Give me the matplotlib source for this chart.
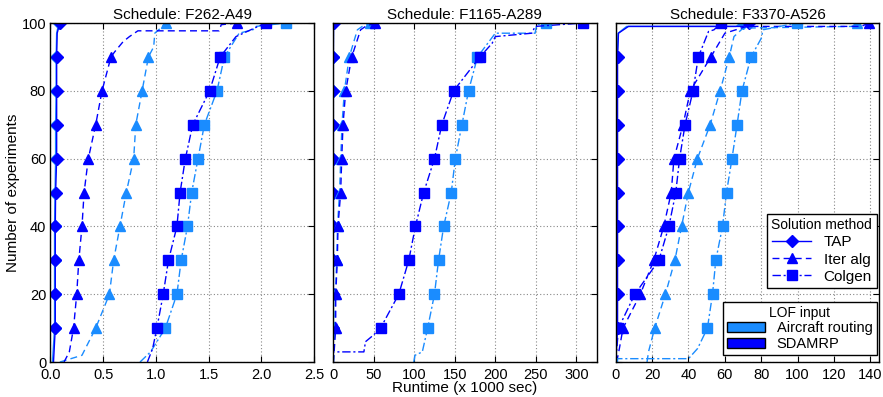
import matplotlib
matplotlib.use("Agg")
import matplotlib.pyplot as plt
from matplotlib.lines import Line2D
from matplotlib.patches import Patch

plt.rcParams["font.family"] = ["Liberation Sans", "DejaVu Sans"]

LIGHT = "#1a8cff"
DARK = "#0000ff"

# percentage of experiments at which markers are drawn
levels = [10, 20, 30, 40, 50, 60, 70, 80, 90, 100]

titles = ["Schedule: F262-A49", "Schedule: F1165-A289", "Schedule: F3370-A526"]
xlims = [(0, 2.5), (0, 325), (0, 145)]
xticks = [[0.0, 0.5, 1.0, 1.5, 2.0, 2.5],
          [0, 50, 100, 150, 200, 250, 300],
          [0, 20, 40, 60, 80, 100, 120, 140]]
xticklabels = [["0.0", "0.5", "1.0", "1.5", "2.0", "2.5"],
               ["0", "50", "100", "150", "200", "250", "300"],
               ["0", "20", "40", "60", "80", "100", "120", "140"]]

# ---- F262-A49 (runtime x1000 s at 10..100 %) ----
f262_tap_ac = [0.04, 0.04, 0.04, 0.04, 0.045, 0.05, 0.05, 0.055, 0.055, 0.08]
f262_tap_sd = [0.047, 0.047, 0.047, 0.047, 0.05, 0.06, 0.06, 0.06, 0.06, 0.09]
f262_iter_ac = [0.43, 0.56, 0.60, 0.66, 0.72, 0.79, 0.81, 0.87, 0.93, 1.10]
f262_iter_sd = [0.22, 0.25, 0.27, 0.30, 0.32, 0.36, 0.43, 0.49, 0.575, 1.77]
f262_col_ac = [1.09, 1.20, 1.24, 1.30, 1.34, 1.40, 1.46, 1.58, 1.65, 2.23]
f262_col_sd = [1.01, 1.07, 1.12, 1.20, 1.23, 1.28, 1.35, 1.51, 1.61, 2.04]
# extra points of the step curves: start (below 10 %) and tail (90..100 %)
f262_tap_ac_head = [(0.02, 0)]
f262_tap_ac_tail = [(0.06, 97)]
f262_tap_sd_head = [(0.03, 0)]
f262_tap_sd_tail = [(0.065, 97)]
f262_iter_ac_head = [(0.09, 0), (0.30, 2)]
f262_iter_ac_tail = [(0.98, 93), (0.99, 97)]
f262_iter_sd_head = [(0.13, 0), (0.18, 3)]
f262_iter_sd_tail = [(0.61, 91.5), (0.69, 94.5), (0.75, 96), (0.83, 97.7), (1.60, 97.7), (1.62, 99.5)]
f262_col_ac_head = [(0.85, 0), (0.95, 3)]
f262_col_ac_tail = [(1.79, 97), (1.92, 98), (1.95, 99)]
f262_col_sd_head = [(0.92, 0), (0.97, 4)]
f262_col_sd_tail = [(1.76, 96), (1.90, 98)]

# ---- F1165-A289 ----
f1165_tap_ac = [0.3, 0.3, 0.3, 0.3, 0.3, 0.3, 0.3, 0.3, 0.3, 0.5]
f1165_tap_sd = [0.4, 0.4, 0.4, 0.4, 0.4, 0.4, 0.4, 0.4, 0.4, 0.6]
f1165_iter_ac = [2.0, 3.0, 4.5, 5.5, 8.0, 9.5, 11.0, 14.0, 20.0, 45.0]
f1165_iter_sd = [3.3, 3.3, 5.3, 6.1, 9.4, 10.7, 12.3, 15.6, 23.0, 51.6]
f1165_col_ac = [116.6, 125.0, 130.0, 136.3, 145.7, 150.7, 158.8, 167.0, 178.0, 262.0]
f1165_col_sd = [58.5, 81.0, 93.3, 101.5, 111.7, 125.0, 134.0, 148.6, 181.0, 308.0]
f1165_tap_ac_head = [(0.0, 0)]
f1165_tap_ac_tail = []
f1165_tap_sd_head = [(0.0, 0)]
f1165_tap_sd_tail = []
f1165_iter_ac_head = [(0.5, 0)]
f1165_iter_ac_tail = [(30.0, 98), (36.0, 99)]
f1165_iter_sd_head = [(0.5, 0)]
f1165_iter_sd_tail = [(34.0, 98), (40.0, 99)]
f1165_col_ac_head = [(99.5, 0), (101.0, 2), (110.0, 3)]
f1165_col_ac_tail = [(200.0, 97), (205.0, 97), (249.0, 97), (251.0, 99.5)]
f1165_col_sd_head = [(0.0, 1), (0.0, 3), (38.0, 3), (40.0, 6), (50.0, 8)]
f1165_col_sd_tail = [(196.0, 94), (200.0, 96), (245.0, 97), (249.0, 99)]

# ---- F3370-A526 ----
f3370_tap_ac = [0.8, 0.8, 0.8, 0.8, 0.8, 0.8, 0.8, 0.8, 0.8, 70.0]
f3370_tap_sd = [1.0, 1.0, 1.0, 1.0, 1.0, 1.0, 1.0, 1.0, 1.0, 73.5]
f3370_iter_ac = [21.4, 27.3, 32.5, 36.2, 39.9, 44.9, 51.9, 57.4, 62.4, 132.6]
f3370_iter_sd = [4.0, 13.5, 20.9, 26.4, 30.5, 32.0, 37.0, 41.0, 52.3, 139.0]
f3370_col_ac = [50.4, 53.2, 55.0, 58.7, 60.9, 63.9, 66.7, 69.4, 74.4, 99.4]
f3370_col_sd = [1.5, 10.5, 23.7, 29.2, 33.0, 35.1, 38.1, 42.5, 45.4, 58.0]
f3370_tap_ac_head = [(0.0, 0)]
f3370_tap_ac_tail = [(1.3, 97), (6.0, 99), (66.0, 99)]
f3370_tap_sd_head = [(0.0, 0)]
f3370_tap_sd_tail = [(1.5, 97), (7.0, 99), (70.0, 99)]
f3370_iter_ac_head = [(17.2, 0), (18.0, 3)]
f3370_iter_ac_tail = [(65.0, 96), (70.0, 98.5), (130.0, 99)]
f3370_iter_sd_head = [(0.5, 0), (2.0, 4)]
f3370_iter_sd_tail = [(60.0, 97), (66.0, 98), (72.0, 99), (135.0, 99)]
f3370_col_ac_head = [(1.0, 0), (1.0, 1), (40.0, 1), (45.0, 4)]
f3370_col_ac_tail = [(80.0, 95.5), (81.0, 98)]
f3370_col_sd_head = [(0.0, 0)]
f3370_col_sd_tail = [(51.0, 97.5), (54.0, 98)]

panels = [
    [("tap", f262_tap_ac, f262_tap_ac_head, f262_tap_ac_tail, LIGHT),
     ("tap", f262_tap_sd, f262_tap_sd_head, f262_tap_sd_tail, DARK),
     ("iter", f262_iter_ac, f262_iter_ac_head, f262_iter_ac_tail, LIGHT),
     ("iter", f262_iter_sd, f262_iter_sd_head, f262_iter_sd_tail, DARK),
     ("col", f262_col_ac, f262_col_ac_head, f262_col_ac_tail, LIGHT),
     ("col", f262_col_sd, f262_col_sd_head, f262_col_sd_tail, DARK)],
    [("tap", f1165_tap_ac, f1165_tap_ac_head, f1165_tap_ac_tail, LIGHT),
     ("tap", f1165_tap_sd, f1165_tap_sd_head, f1165_tap_sd_tail, DARK),
     ("iter", f1165_iter_ac, f1165_iter_ac_head, f1165_iter_ac_tail, LIGHT),
     ("iter", f1165_iter_sd, f1165_iter_sd_head, f1165_iter_sd_tail, DARK),
     ("col", f1165_col_ac, f1165_col_ac_head, f1165_col_ac_tail, LIGHT),
     ("col", f1165_col_sd, f1165_col_sd_head, f1165_col_sd_tail, DARK)],
    [("tap", f3370_tap_ac, f3370_tap_ac_head, f3370_tap_ac_tail, LIGHT),
     ("tap", f3370_tap_sd, f3370_tap_sd_head, f3370_tap_sd_tail, DARK),
     ("iter", f3370_iter_ac, f3370_iter_ac_head, f3370_iter_ac_tail, LIGHT),
     ("iter", f3370_iter_sd, f3370_iter_sd_head, f3370_iter_sd_tail, DARK),
     ("col", f3370_col_ac, f3370_col_ac_head, f3370_col_ac_tail, LIGHT),
     ("col", f3370_col_sd, f3370_col_sd_head, f3370_col_sd_tail, DARK)],
]

styles = {"tap": dict(ls="-", marker="D", ms=6),
          "iter": dict(ls=(0, (5, 3)), marker="^", ms=7),
          "col": dict(ls=(0, (6, 2, 1.5, 2)), marker="s", ms=7)}

fig, axes = plt.subplots(1, 3, figsize=(8.83, 3.97), dpi=100, sharey=True)
fig.subplots_adjust(left=0.057, right=0.996, bottom=0.088, top=0.942, wspace=0.072)

for k, ax in enumerate(axes):
    for method, marks, head, tail, col in panels[k]:
        xs = [p[0] for p in head] + marks[:9] + [p[0] for p in tail] + [marks[9]]
        ys = [p[1] for p in head] + levels[:9] + [p[1] for p in tail] + [levels[9]]
        idx = list(range(len(head), len(head) + 9)) + [len(xs) - 1]
        st = styles[method]
        ax.plot(xs, ys, ls=st["ls"], color=col, lw=1.0, marker=st["marker"],
                ms=st["ms"], mfc=col, mec=col, markevery=idx, clip_on=True)
    ax.set_xlim(*xlims[k])
    ax.set_ylim(0, 100)
    ax.set_xticks(xticks[k])
    ax.set_xticklabels(xticklabels[k])
    ax.set_yticks([0, 20, 40, 60, 80, 100])
    ax.grid(True, ls=(0, (1, 2)), color="#888888", lw=0.8)
    ax.tick_params(direction="in", top=True, right=True, labelsize=10.5, length=4)
    ax.tick_params(axis="x", pad=4.5)
    ax.tick_params(axis="y", pad=3)
    ax.set_title(titles[k], fontsize=11, pad=3)
    for s in ax.spines.values():
        s.set_linewidth(1.0)

axes[0].set_ylabel("Number of experiments", fontsize=11, labelpad=1)
axes[1].set_xlabel("Runtime (x 1000 sec)", fontsize=11, labelpad=-1)

ax = axes[2]
h1 = [Line2D([], [], color=DARK, ls=styles[m]["ls"], marker=styles[m]["marker"],
             ms=styles[m]["ms"], lw=1.0) for m in ["tap", "iter", "col"]]
leg1 = ax.legend(h1, ["TAP", "Iter alg", "Colgen"], title="Solution method",
                 loc="lower right", bbox_to_anchor=(0.99, 0.218), fontsize=11,
                 title_fontsize=10, fancybox=False, edgecolor="black",
                 framealpha=1, handlelength=2.6, borderpad=0.3, labelspacing=0.2,
                 handletextpad=0.8, borderaxespad=0.0)
leg1.get_frame().set_linewidth(1.0)
ax.add_artist(leg1)
h2 = [Patch(facecolor=LIGHT, edgecolor="black"), Patch(facecolor=DARK, edgecolor="black")]
leg2 = ax.legend(h2, ["Aircraft routing", "SDAMRP"], title="LOF input",
                 loc="lower right", bbox_to_anchor=(0.99, 0.02), fontsize=10.5,
                 title_fontsize=10, fancybox=False, edgecolor="black",
                 framealpha=1, handlelength=2.6, borderpad=0.3, labelspacing=0.1,
                 handletextpad=0.8, borderaxespad=0.0)
leg2.get_frame().set_linewidth(1.0)

fig.savefig("out.png", dpi=100)
